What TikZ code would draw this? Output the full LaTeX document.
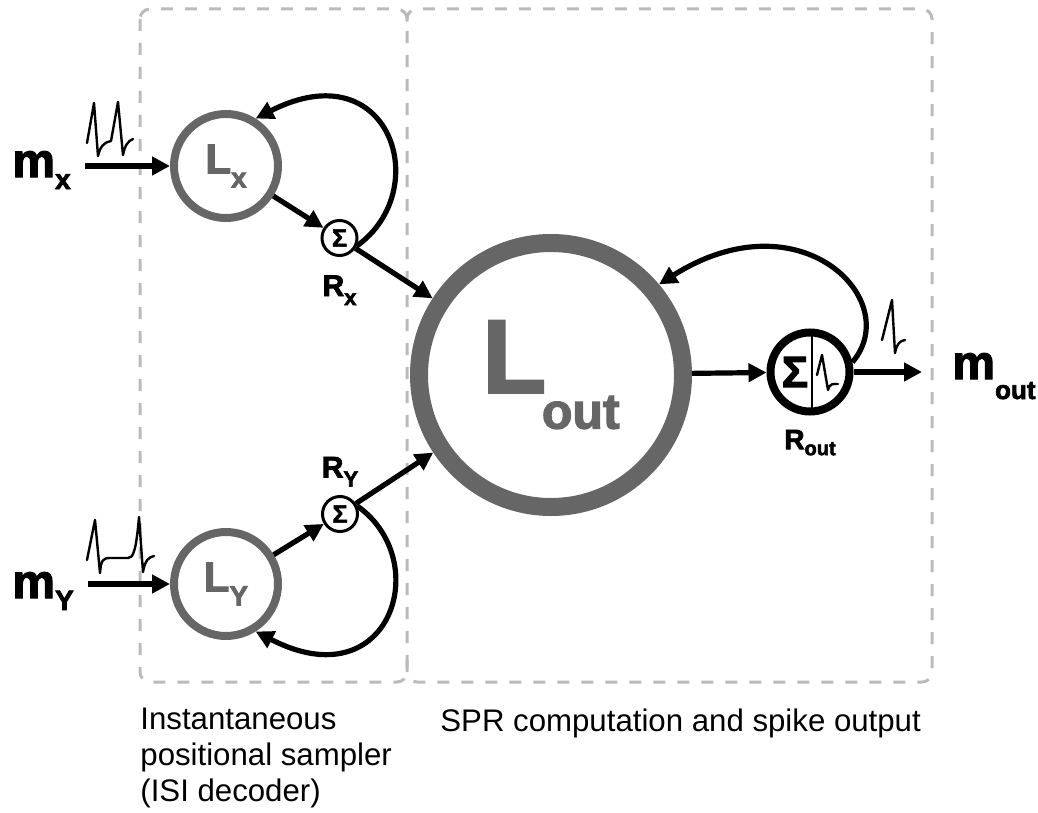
\documentclass[tikz,border=0pt]{standalone}
\usepackage{fontspec}
\setmainfont{Liberation Sans}
\newfontface\heavyfont{Liberation Sans Bold}[FakeBold=2.5]
\usetikzlibrary{positioning}
\usetikzlibrary{calc}
\usetikzlibrary{arrows.meta}

\definecolor{neurongray}{HTML}{666666}
\definecolor{boxgray}{HTML}{BBBBBB}

\tikzset{
    neuron/.style={circle, draw=neurongray, text=neurongray, line width=4pt, minimum size=52pt, inner sep=0pt,
        font=\heavyfont\fontsize{21}{21}\selectfont},
    sumnode/.style={circle, draw, line width=1.5pt, minimum size=17.5pt, inner sep=0pt,
        font=\heavyfont\fontsize{12.5}{12.5}\selectfont},
    arr/.style={line width=2.6pt, -{Triangle[length=9pt,width=9pt]}},
    spike/.style={line width=1.2pt, line join=round, line cap=round},
    boxline/.style={draw=boxgray, line width=1.5pt, dash pattern=on 6pt off 6pt, rounded corners=5pt},
    lbl/.style={font=\heavyfont\fontsize{24}{24}\selectfont, inner sep=0pt},
    rlbl/.style={font=\heavyfont\fontsize{15}{15}\selectfont, inner sep=0pt},
    caption/.style={font=\fontsize{15.6}{18}\selectfont, inner sep=0pt, align=left, anchor=north west},
}

\begin{document}
\begin{tikzpicture}[x=0.5pt, y=-0.5pt]
    \useasboundingbox (0,0) rectangle (1038,813);

    % the two stages
    \draw[boxline] (140,9) rectangle (407,682);
    \draw[boxline] (407,660) -- (407,682) -- (932,682) -- (932,9) -- (407,9) -- (407,31);

    % neurons
    \node[neuron] (lx) at (226,166) {L\raisebox{-7pt}{\fontsize{14}{14}\selectfont x}};
    \node[neuron] (ly) at (226,584) {L\raisebox{-7pt}{\fontsize{14}{14}\selectfont Y}};
    \node[neuron, line width=9pt, minimum size=132pt, font=\heavyfont\fontsize{52}{52}\selectfont] (lout) at (551,375)
        {L\kern-2pt\raisebox{-18pt}{\fontsize{25}{25}\selectfont out}};

    \node[sumnode] (sx) at (339.5,238) {Σ};
    \node[sumnode] (sy) at (340,514) {Σ};
    \node[circle, draw, line width=4pt, minimum size=39.5pt, inner sep=0pt] (rout) at (810,372) {};
    \node[font=\heavyfont\fontsize{22}{22}\selectfont, inner sep=0pt] (rsum) at (795,372) {Σ};
    \draw[line width=1pt] (rout.center) ++(2,-36) -- ++(0,72);

    % labels
    \node[lbl, anchor=base west] (mx) at (12,177) {m\raisebox{-6pt}{\fontsize{14}{14}\selectfont x}};
    \node[lbl, anchor=base west] (my) at (12,598) {m\raisebox{-6pt}{\fontsize{14}{14}\selectfont Y}};
    \node[lbl, anchor=base west] (mout) at (952,379) {m\raisebox{-10pt}{\fontsize{13}{13}\selectfont out}};
    \node[rlbl, below=9pt of sx] (rx) {R\raisebox{-4.5pt}{\fontsize{11}{11}\selectfont x}};
    \node[rlbl, above=4pt of sy] (ry) {R\raisebox{-4.5pt}{\fontsize{11}{11}\selectfont Y}};
    \node[rlbl, font=\heavyfont\fontsize{14}{14}\selectfont, below=7pt of rout] (routlbl)
        {R\raisebox{-3pt}{\fontsize{10}{10}\selectfont out}};

    % connections
    \draw[arr] ($(mx.east |- lx)+(14,0)$) -- (lx);
    \draw[arr] ($(my.east |- ly)+(14,0)$) -- (ly);
    \draw[arr] (lx) -- (sx);
    \draw[arr] (ly) -- (sy);
    \draw[arr] (sx) -- (lout);
    \draw[arr] (sy) -- (lout);
    \draw[arr] (lout) -- (rout);
    \draw[arr] (rout) -- ($(mout.west |- rout)+(-30,0)$);

    % recurrent loops
    \draw[arr] (sx.-25) .. controls (435,190) and (390,50) .. (lx.58);
    \draw[arr] (sy.25) .. controls (435,561) and (390,701) .. (ly.-58);
    \draw[arr] (rout.13) .. controls (905,300) and (800,195) .. (lout.40);

    % spike trains
    \draw[spike] (87,143) -- (94,103) -- (98,156) .. controls (100,147) and (104,142) .. (111,141)
        -- (118,102) -- (123,155) .. controls (125,145) and (128,141) .. (133,139);
    \draw[spike] (87,560) -- (95,520) -- (100,573) .. controls (101,560) and (103,558) .. (110,558)
        -- (128,558) .. controls (133,558) and (136,552) .. (139,517) -- (143,572)
        .. controls (145,560) and (149,557) .. (154,556);
    \draw[spike] (882,340) -- (892,300) -- (895,353) .. controls (897,343) and (900,341) .. (905,340);
    \draw[spike] (817,375) -- (822,355) -- (828,390) .. controls (830,383) and (833,384) .. (838,384);

    % stage captions
    \node[caption] (sampler) at (140,708) {Instantaneous\\positional sampler\\(ISI decoder)};
    \node[caption] (spr) at (440,708) {SPR computation and spike output};
\end{tikzpicture}
\end{document}
